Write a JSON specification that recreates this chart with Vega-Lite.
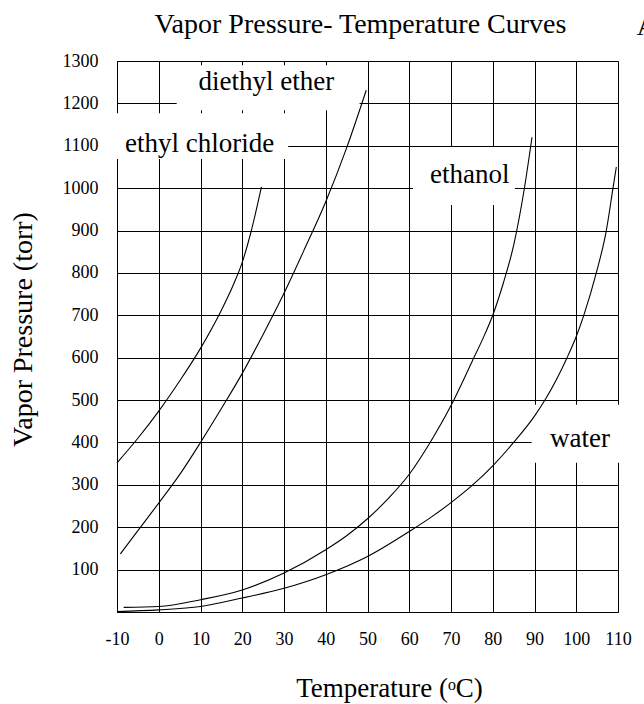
{
  "$schema": "https://vega.github.io/schema/vega-lite/v6.json",
  "width": 501,
  "height": 551,
  "autosize": "none",
  "padding": {"left": 117, "top": 61, "right": 26, "bottom": 92},
  "background": "white",
  "config": {
    "view": {"stroke": null},
    "axis": {
      "grid": true,
      "gridColor": "black",
      "gridOpacity": 1,
      "gridWidth": 1,
      "ticks": false,
      "tickSize": 0,
      "domain": true,
      "domainColor": "black",
      "domainWidth": 1,
      "labelFont": "Liberation Serif",
      "labelFontSize": 18,
      "labelColor": "black",
      "labelFlush": false,
      "labelOverlap": false,
      "titleFont": "Liberation Serif",
      "titleFontWeight": "normal",
      "titleColor": "black"
    }
  },
  "datasets": {
    "curves": [
      {"substance": "ethyl chloride", "T": -10, "P": 352},
      {"substance": "ethyl chloride", "T": -5, "P": 410},
      {"substance": "ethyl chloride", "T": 0, "P": 474},
      {"substance": "ethyl chloride", "T": 5, "P": 545},
      {"substance": "ethyl chloride", "T": 10, "P": 622},
      {"substance": "ethyl chloride", "T": 15, "P": 712},
      {"substance": "ethyl chloride", "T": 18, "P": 775},
      {"substance": "ethyl chloride", "T": 20, "P": 825},
      {"substance": "ethyl chloride", "T": 22, "P": 893},
      {"substance": "ethyl chloride", "T": 24.6, "P": 1003},
      {"substance": "diethyl ether", "T": -9.2, "P": 137},
      {"substance": "diethyl ether", "T": -5, "P": 192},
      {"substance": "diethyl ether", "T": 0, "P": 257},
      {"substance": "diethyl ether", "T": 5, "P": 324},
      {"substance": "diethyl ether", "T": 10, "P": 400},
      {"substance": "diethyl ether", "T": 15, "P": 480},
      {"substance": "diethyl ether", "T": 20, "P": 563},
      {"substance": "diethyl ether", "T": 25, "P": 655},
      {"substance": "diethyl ether", "T": 30, "P": 752},
      {"substance": "diethyl ether", "T": 35, "P": 858},
      {"substance": "diethyl ether", "T": 40, "P": 968},
      {"substance": "diethyl ether", "T": 45, "P": 1095},
      {"substance": "diethyl ether", "T": 49.7, "P": 1231},
      {"substance": "ethanol", "T": -8.4, "P": 11},
      {"substance": "ethanol", "T": 0, "P": 13},
      {"substance": "ethanol", "T": 10, "P": 29},
      {"substance": "ethanol", "T": 20, "P": 52},
      {"substance": "ethanol", "T": 30, "P": 92},
      {"substance": "ethanol", "T": 40, "P": 147},
      {"substance": "ethanol", "T": 45, "P": 180},
      {"substance": "ethanol", "T": 50, "P": 220},
      {"substance": "ethanol", "T": 55, "P": 268},
      {"substance": "ethanol", "T": 60, "P": 325},
      {"substance": "ethanol", "T": 65, "P": 400},
      {"substance": "ethanol", "T": 70, "P": 487},
      {"substance": "ethanol", "T": 75, "P": 590},
      {"substance": "ethanol", "T": 77.5, "P": 642},
      {"substance": "ethanol", "T": 80, "P": 700},
      {"substance": "ethanol", "T": 82.5, "P": 775},
      {"substance": "ethanol", "T": 85, "P": 865},
      {"substance": "ethanol", "T": 87.5, "P": 995},
      {"substance": "ethanol", "T": 89.4, "P": 1120},
      {"substance": "water", "T": -10, "P": 1},
      {"substance": "water", "T": 0, "P": 5},
      {"substance": "water", "T": 10, "P": 13},
      {"substance": "water", "T": 20, "P": 33},
      {"substance": "water", "T": 30, "P": 56},
      {"substance": "water", "T": 40, "P": 88},
      {"substance": "water", "T": 50, "P": 131},
      {"substance": "water", "T": 60, "P": 190},
      {"substance": "water", "T": 65, "P": 222},
      {"substance": "water", "T": 70, "P": 258},
      {"substance": "water", "T": 75, "P": 298},
      {"substance": "water", "T": 80, "P": 345},
      {"substance": "water", "T": 85, "P": 400},
      {"substance": "water", "T": 90, "P": 462},
      {"substance": "water", "T": 92.5, "P": 500},
      {"substance": "water", "T": 97.8, "P": 600},
      {"substance": "water", "T": 100, "P": 650},
      {"substance": "water", "T": 101.8, "P": 700},
      {"substance": "water", "T": 104.8, "P": 800},
      {"substance": "water", "T": 107.2, "P": 900},
      {"substance": "water", "T": 108.8, "P": 1000},
      {"substance": "water", "T": 109.6, "P": 1050}
    ],
    "labels": [
      {"label": "diethyl ether", "T": 25.8, "P": 1231, "T1": 4.3, "T2": 48.1, "P1": 1184, "P2": 1290},
      {"label": "ethyl chloride", "T": 9.8, "P": 1085, "T1": -11.3, "T2": 31, "P1": 1069, "P2": 1177},
      {"label": "ethanol", "T": 74.5, "P": 1013, "T1": 60.9, "T2": 85.3, "P1": 960, "P2": 1097},
      {"label": "water", "T": 100.9, "P": 390, "T1": 89.3, "T2": 111.6, "P1": 352, "P2": 489},
      {"label": "Vapor Pressure- Temperature Curves", "T": 48.3, "P": 1366},
      {"label": "A", "T": 116.8, "P": 1361}
    ]
  },
  "layer": [
    {
      "data": {"name": "labels"},
      "transform": [{"filter": "datum.T1 != null"}],
      "mark": {"type": "rect", "fill": "white", "strokeWidth": 0},
      "encoding": {
        "x": {"field": "T1", "type": "quantitative", "title": "Temperature (ᵒC)"},
        "x2": {"field": "T2"},
        "y": {"field": "P1", "type": "quantitative", "title": "Vapor Pressure (torr)"},
        "y2": {"field": "P2"}
      }
    },
    {
      "data": {"name": "curves"},
      "mark": {"type": "line", "interpolate": "monotone", "color": "black", "strokeWidth": 1.1},
      "encoding": {
        "x": {
          "field": "T",
          "type": "quantitative",
          "scale": {"domain": [-10, 110], "nice": false, "zero": false},
          "axis": {
            "values": [-10, 0, 10, 20, 30, 40, 50, 60, 70, 80, 90, 100, 110],
            "labelExpr": "'' + datum.value",
            "labelBaseline": "alphabetic",
            "labelPadding": 32,
            "title": "Temperature (ᵒC)",
            "titleFontSize": 27,
            "titleX": 272,
            "titleY": 84,
            "titleAlign": "center",
            "titleBaseline": "alphabetic"
          },
          "title": "Temperature (ᵒC)"
        },
        "y": {
          "field": "P",
          "type": "quantitative",
          "scale": {"domain": [0, 1300], "nice": false},
          "axis": {
            "values": [0, 100, 200, 300, 400, 500, 600, 700, 800, 900, 1000, 1100, 1200, 1300],
            "labelExpr": "datum.value == 0 ? '' : '' + datum.value",
            "labelPadding": 19,
            "labelBaseline": "middle",
            "title": "Vapor Pressure (torr)",
            "titleFontSize": 28,
            "titleAngle": -90,
            "titleX": -86,
            "titleY": 268,
            "titleAlign": "center",
            "titleBaseline": "alphabetic"
          },
          "title": "Vapor Pressure (torr)"
        },
        "detail": {"field": "substance"}
      }
    },
    {
      "data": {"name": "labels"},
      "mark": {"type": "text", "font": "Liberation Serif", "fontSize": 27, "color": "black", "align": "center", "baseline": "alphabetic"},
      "encoding": {
        "x": {"field": "T", "type": "quantitative", "title": "Temperature (ᵒC)"},
        "y": {"field": "P", "type": "quantitative", "title": "Vapor Pressure (torr)"},
        "text": {"field": "label"},
        "size": {"condition": {"test": "length(datum.label) > 20", "value": 28}, "value": 27}
      }
    }
  ]
}
